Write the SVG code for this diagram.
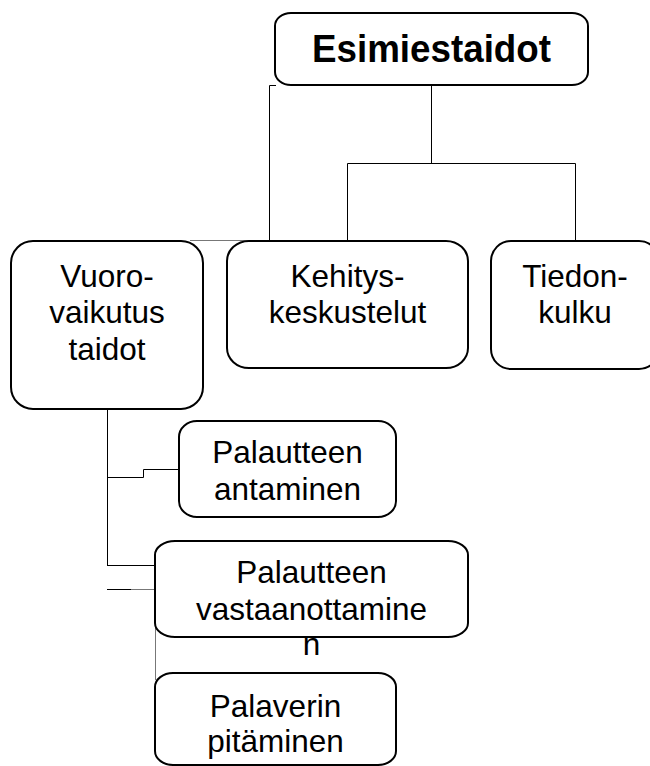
<svg xmlns="http://www.w3.org/2000/svg" width="650" height="766" viewBox="0 0 650 766">
<style>
.box{fill:#fff;stroke:#000;stroke-width:2}
.t{font-family:"Liberation Sans",Arial,sans-serif;font-size:31.5px;fill:#000;text-anchor:middle}
.tb{font-family:"Liberation Sans",Arial,sans-serif;font-size:39px;font-weight:bold;fill:#000;text-anchor:middle}
.c{fill:none;stroke:#000;stroke-width:1}
.g{fill:none;stroke:#777;stroke-width:1}
</style>
<rect width="650" height="766" fill="#fff"/>
<g id="connectors">
<polyline class="c" points="276,85.5 269.5,85.5 269.5,241"/>
<line class="g" x1="190" y1="240.5" x2="270" y2="240.5"/>
<line class="c" x1="431.5" y1="85" x2="431.5" y2="163.5"/>
<polyline class="c" points="347.5,241 347.5,163.5 575.5,163.5 575.5,241"/>
<line class="c" x1="107.5" y1="409" x2="107.5" y2="566"/>
<polyline class="c" points="107,477.5 143.5,477.5 143.5,469.5 179,469.5"/>
<line class="c" x1="107" y1="565.5" x2="155" y2="565.5"/>
<line class="c" x1="107" y1="589.5" x2="131" y2="589.5"/>
<line class="g" x1="131" y1="589.5" x2="155" y2="589.5"/>
<line class="g" x1="155.5" y1="620" x2="155.5" y2="680"/>
</g>
<g id="esimiestaidot">
<rect class="box" x="275" y="13" width="313" height="72" rx="16" ry="13"/>
<text class="tb" x="431.5" y="62" textLength="239" lengthAdjust="spacingAndGlyphs">Esimiestaidot</text>
</g>
<g id="vuorovaikutus">
<rect class="box" x="11" y="241" width="192" height="168" rx="22" ry="22"/>
<text class="t" x="107" y="287">Vuoro-</text>
<text class="t" x="107" y="323">vaikutus</text>
<text class="t" x="107" y="360">taidot</text>
</g>
<g id="kehitys">
<rect class="box" x="227" y="241" width="241" height="127" rx="22" ry="20"/>
<text class="t" x="347.5" y="287">Kehitys-</text>
<text class="t" x="347.5" y="323">keskustelut</text>
</g>
<g id="tiedonkulku">
<rect class="box" x="491" y="241" width="168" height="128" rx="20" ry="20"/>
<text class="t" x="575" y="287">Tiedon-</text>
<text class="t" x="575" y="323">kulku</text>
</g>
<g id="antaminen">
<rect class="box" x="179" y="421" width="217" height="96" rx="18" ry="16"/>
<text class="t" x="287.5" y="463">Palautteen</text>
<text class="t" x="287.5" y="500">antaminen</text>
</g>
<g id="vastaanottaminen">
<rect class="box" x="155" y="541" width="313" height="96" rx="20" ry="14"/>
<text class="t" x="311.5" y="583">Palautteen</text>
<text class="t" x="311.5" y="620">vastaanottamine</text>
<text class="t" x="311.5" y="655">n</text>
</g>
<g id="palaverin">
<rect class="box" x="155" y="673" width="241" height="92" rx="18" ry="14"/>
<text class="t" x="275.5" y="717">Palaverin</text>
<text class="t" x="275.5" y="752">pitäminen</text>
</g>
</svg>
